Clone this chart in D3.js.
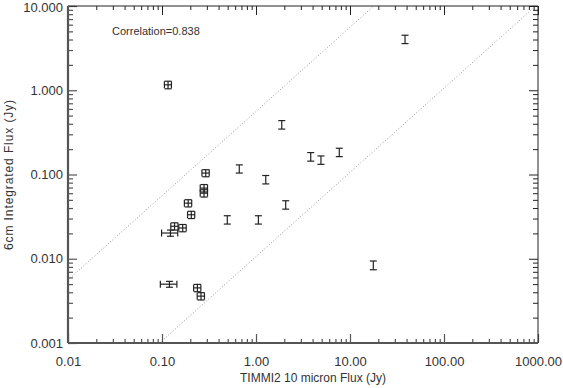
<!DOCTYPE html>
<html>
<head>
<meta charset="utf-8">
<script src="https://cdn.jsdelivr.net/npm/d3@7"></script>
<style>
  body { margin: 0; background: #fff; }
  text { font-family: "Liberation Sans", Arial, sans-serif; fill: #333; }
</style>
</head>
<body>
<svg id="grafico"></svg>
<script>
// dados (Jy)
const fluxo10 = [0.116, 0.292, 0.28, 0.28, 0.190, 0.205, 0.136, 0.166, 0.123, 0.120, 0.238, 0.26,
                 0.664, 1.27, 2.07, 0.495, 1.06, 1.88, 3.82, 4.91, 7.69, 38.5, 17.7];
const fluxo6cm = [1.16, 0.104, 0.069, 0.060, 0.0457, 0.0333, 0.0243, 0.0232, 0.0202, 0.00499, 0.00451, 0.0036,
                  0.117, 0.0873, 0.0438, 0.0291, 0.0291, 0.391, 0.163, 0.149, 0.184, 4.04, 0.0084];
const erroX = [0.010, 0.026, 0.025, 0.025, 0.017, 0.018, 0.012, 0.015, 0.024, 0.024, 0.021, 0.023,
               0, 0, 0, 0, 0, 0, 0, 0, 0, 0, 0];
const erroY = [0.12, 0.010, 0.007, 0.006, 0.0045, 0.0033, 0.0024, 0.0023, 0.0017, 0.0004, 0.00045, 0.00036,
               0.013, 0.010, 0.005, 0.0033, 0.0033, 0.045, 0.019, 0.017, 0.021, 0.46, 0.001];
// retas y = razao * x
const razoes = [0.56, 0.0106];
const rotulosX = ['0.01', '0.10', '1.00', '10.00', '100.00', '1000.00'];
const rotulosY = ['0.001', '0.010', '0.100', '1.000', '10.000'];
const decadasX = [0.01, 0.1, 1, 10, 100, 1000];
const decadasY = [0.001, 0.01, 0.1, 1, 10];
const textoCorrelacao = 'Correlation=0.838';

const largura = 563, altura = 388;
const margem = { esquerda: 68, direita: 25, superior: 6, inferior: 45 };
const lp = largura - margem.esquerda - margem.direita;
const ap = altura - margem.superior - margem.inferior;

const svg = d3.select('#grafico').attr('width', largura).attr('height', altura);
const plot = svg.append('g').attr('transform', `translate(${margem.esquerda},${margem.superior})`);

const x = d3.scaleLog().domain([0.01, 1000]).range([0, lp]);
const y = d3.scaleLog().domain([0.001, 10]).range([ap, 0]);

function menores(decadas) {
  const v = [];
  decadas.slice(0, -1).forEach(d => { for (let k = 2; k <= 9; k++) v.push(d * k); });
  return v;
}

// retas pontilhadas
plot.append('clipPath').attr('id', 'recorte').append('rect').attr('width', lp).attr('height', ap);
const gRetas = plot.append('g').attr('clip-path', 'url(#recorte)');
razoes.forEach(r => {
  const pts = [0.001, 10000].map(v => [x(v), y(v * r)]);
  gRetas.append('path')
    .attr('d', d3.line()(pts))
    .attr('fill', 'none')
    .attr('stroke', '#999')
    .attr('stroke-width', 1)
    .attr('stroke-dasharray', '1,2');
});

// eixos
function eixo(gerador, escala, valores, tamanho) {
  return gerador(escala).tickValues(valores).tickSize(-tamanho).tickFormat('');
}
const corPrincipal = '#555', corSec = '#222';

const gx = plot.append('g').attr('transform', `translate(0,${ap})`);
gx.append('g').call(eixo(d3.axisBottom, x, menores(decadasX), 4));
gx.append('g').call(d3.axisBottom(x).tickValues(decadasX).tickSize(-9).tickPadding(14)
  .tickFormat((d, i) => rotulosX[i]));
const gy = plot.append('g');
gy.append('g').call(eixo(d3.axisLeft, y, menores(decadasY), 5));
gy.append('g').call(d3.axisLeft(y).tickValues(decadasY).tickSize(-9).tickPadding(5)
  .tickFormat((d, i) => rotulosY[i]));
[gx, gy].forEach(g => {
  g.selectAll('.domain').remove();
  g.selectAll('line').attr('stroke', corPrincipal).attr('stroke-width', 1.2);
  g.selectAll('text').attr('font-size', '13px').attr('fill', '#333')
    .attr('font-family', '"Liberation Sans", Arial, sans-serif');
});
// o rotulo do topo desce um pouco para caber na janela
gy.selectAll('text').filter((d, i, n) => d === 10).attr('dy', '0.45em');

const gt = plot.append('g');
gt.append('g').call(eixo(d3.axisTop, x, menores(decadasX), 4));
gt.append('g').call(eixo(d3.axisTop, x, decadasX, 9));
const gr = plot.append('g').attr('transform', `translate(${lp},0)`);
gr.append('g').call(eixo(d3.axisRight, y, menores(decadasY), 5));
gr.append('g').call(eixo(d3.axisRight, y, decadasY, 9));
[gt, gr].forEach(g => {
  g.selectAll('.domain').remove();
  g.selectAll('line').attr('stroke', corSec).attr('stroke-width', 1);
  g.selectAll('text').remove();
});

// moldura
plot.append('line').attr('x1', 0).attr('x2', lp).attr('y1', 0).attr('y2', 0).attr('stroke', corSec);
plot.append('line').attr('x1', lp).attr('x2', lp).attr('y1', 0).attr('y2', ap).attr('stroke', corSec);
plot.append('line').attr('x1', 0).attr('x2', lp).attr('y1', ap).attr('y2', ap)
  .attr('stroke', corPrincipal).attr('stroke-width', 2.2);
plot.append('line').attr('x1', 0).attr('x2', 0).attr('y1', 0).attr('y2', ap)
  .attr('stroke', corPrincipal).attr('stroke-width', 2.2);

// barras de erro
const tampa = 3.5;
const gPontos = plot.append('g').attr('stroke', '#222').attr('stroke-width', 1.2).attr('fill', 'none');
fluxo10.forEach((fx, i) => {
  const cx = x(fx), cy = y(fluxo6cm[i]);
  const y0 = y(fluxo6cm[i] - erroY[i]), y1 = y(fluxo6cm[i] + erroY[i]);
  gPontos.append('line').attr('x1', cx).attr('x2', cx).attr('y1', y0).attr('y2', y1);
  [y0, y1].forEach(yy => gPontos.append('line')
    .attr('x1', cx - tampa).attr('x2', cx + tampa).attr('y1', yy).attr('y2', yy));
  if (erroX[i] > 0) {
    const x0 = x(fx - erroX[i]), x1 = x(fx + erroX[i]);
    gPontos.append('line').attr('x1', x0).attr('x2', x1).attr('y1', cy).attr('y2', cy);
    [x0, x1].forEach(xx => gPontos.append('line')
      .attr('x1', xx).attr('x2', xx).attr('y1', cy - tampa).attr('y2', cy + tampa));
  }
});

// textos
plot.append('text').attr('x', 44).attr('y', 35 - margem.superior)
  .attr('font-size', '11px').text(textoCorrelacao);
svg.append('text')
  .attr('transform', `translate(${margem.esquerda + lp / 2 + 10},${altura - 6})`)
  .attr('text-anchor', 'middle').attr('font-size', '12px').text('TIMMI2 10 micron Flux (Jy)');
svg.append('text')
  .attr('transform', `translate(13,${margem.superior + ap / 2}) rotate(-90)`)
  .attr('text-anchor', 'middle').attr('font-size', '12px').attr('letter-spacing', '0.9px')
  .text('6cm Integrated Flux (Jy)');
</script>
</body>
</html>
